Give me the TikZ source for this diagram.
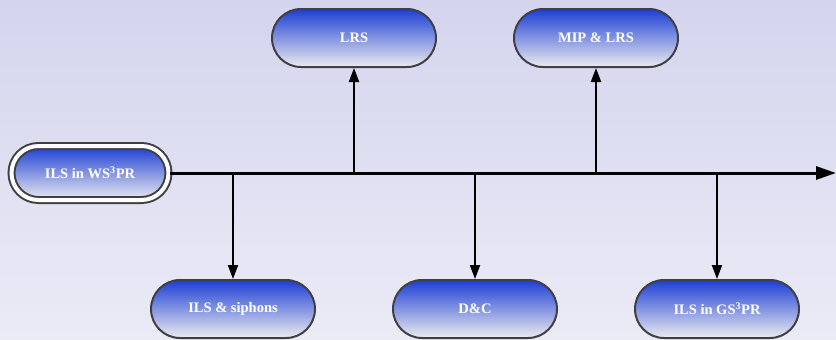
\documentclass[tikz,border=0pt]{standalone}
\usepackage{fontspec}
\setmainfont{Liberation Serif}
\usetikzlibrary{shapes.misc,arrows.meta}
\definecolor{BgTop}{RGB}{212,212,238}
\definecolor{BgBot}{RGB}{235,235,246}
\definecolor{BoxTop}{RGB}{28,62,212}
\definecolor{BoxBot}{RGB}{236,236,240}
\definecolor{Rim}{RGB}{64,64,68}

\tikzset{
  stage/.style={rounded rectangle, draw=Rim, line width=2pt,
    top color=BoxTop, bottom color=BoxBot, text=white,
    minimum width=164pt, minimum height=58pt, inner sep=0pt,
    font=\fontsize{14.5}{17}\selectfont\bfseries},
  origin/.style={stage, minimum width=157pt, minimum height=54pt,
    double=white, double distance=4pt},
  link/.style={-{Triangle[length=14pt,width=10pt]}, line width=2pt}
}

\begin{document}
\begin{tikzpicture}[x=1pt,y=-1pt]
% background
\fill[top color=BgTop, bottom color=BgBot] (0,0) rectangle (836,340);
\useasboundingbox (0,0) rectangle (836,340);

\node[origin] (ws) at (90,173) {ILS in WS$^{\mathbf{3}}$PR};
\node[stage] (lrs) at (354,38) {LRS};
\node[stage] (mip) at (596,38) {MIP \& LRS};
\node[stage] (siph) at (233,309) {ILS \& siphons};
\node[stage] (dc) at (475,309) {D\&C};
\node[stage] (gs) at (717,309) {ILS in GS$^{\mathbf{3}}$PR};

\coordinate (tip) at (836,173);
\draw[-{Triangle[length=20pt,width=13pt]}, line width=3pt] (ws.east) -- (tip);

\coordinate (b1) at (233,173);
\coordinate (b2) at (354,173);
\coordinate (b3) at (475,173);
\coordinate (b4) at (596,173);
\coordinate (b5) at (717,173);
\draw[link] (b1) -- (siph);
\draw[link] (b2) -- (lrs);
\draw[link] (b3) -- (dc);
\draw[link] (b4) -- (mip);
\draw[link] (b5) -- (gs);
\end{tikzpicture}
\end{document}
